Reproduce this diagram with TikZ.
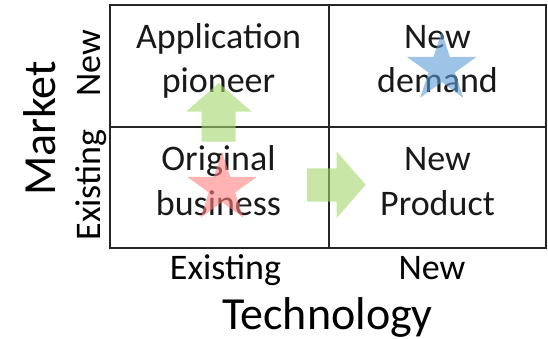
\documentclass[tikz,border=0pt]{standalone}
\usepackage{fontspec}
\setmainfont{Carlito}
\begin{document}
\begin{tikzpicture}[x=1pt,y=-1pt,
  celltext/.style={anchor=base,inner sep=0pt,font=\fontsize{36}{44}\selectfont,text=black!90},
  axistext/.style={anchor=base,inner sep=0pt,font=\fontsize{36}{44}\selectfont,text=black},
  axistitle/.style={anchor=base,inner sep=0pt,font=\fontsize{46}{55}\selectfont,text=black},
  gridline/.style={line width=2pt,draw=black!85},
  greenarrow/.style={fill={rgb,255:red,163;green,213;blue,105},fill opacity=0.6},
  redstar/.style={fill={rgb,255:red,255;green,128;blue,128},fill opacity=0.6},
  bluestar/.style={fill={rgb,255:red,92;green,155;blue,213},fill opacity=0.6}]
\useasboundingbox (0,0) rectangle (548,339);
% cell texts
\node[celltext] (app1) at (218.5,49) {Application};
\node[celltext] (app2) at (218.5,93) {pioneer};
\node[celltext] (dem1) at (437.5,49) {New};
\node[celltext] (dem2) at (437.5,93) {demand};
\node[celltext] (org1) at (218.5,171) {Original};
\node[celltext] (org2) at (218.5,215) {business};
\node[celltext] (prd1) at (437.5,171) {New};
\node[celltext] (prd2) at (437.5,215) {Product};
% grid
\coordinate (tl) at (109.5,5);
\coordinate (br) at (546,247.5);
\coordinate (mt) at (329,5);
\coordinate (mb) at (329,247.5);
\coordinate (ml) at (109.5,127.5);
\coordinate (mr) at (546,127.5);
\draw[gridline] (tl) rectangle (br);
\draw[gridline] (mt) -- (mb);
\draw[gridline] (ml) -- (mr);
% axis labels
\node[axistitle,rotate=90] (market) at (55,128.5) {Market};
\node[axistext,rotate=90] (mnew) at (100,63.5) {New};
\node[axistext,rotate=90] (mexist) at (100,185) {Existing};
\node[axistext] (texist) at (225.5,279) {Existing};
\node[axistext] (tnew) at (432,279) {New};
\node[axistitle] (tech) at (327.5,329.5) {Technology};
% arrows
\fill[greenarrow] (201.7,141.7) -- (201.7,111.7) -- (186,111.7) -- (218.8,83) -- (251.7,111.7) -- (235.5,111.7) -- (235.5,141.7) -- cycle;
\fill[greenarrow] (307,168.3) -- (336.7,168.3) -- (336.7,151.7) -- (365.7,184.8) -- (336.7,218) -- (336.7,201.7) -- (307,201.7) -- cycle;
% stars (y axis points down, so 270 degrees is up)
\fill[redstar,shift={(222,188.2)}] (270:36.5) -- (306:13.9) -- (342:36.5) -- (18:13.9) -- (54:36.5) -- (90:13.9) -- (126:36.5) -- (162:13.9) -- (198:36.5) -- (234:13.9) -- cycle;
\fill[bluestar,shift={(441.7,68.2)}] (270:36.5) -- (306:13.9) -- (342:36.5) -- (18:13.9) -- (54:36.5) -- (90:13.9) -- (126:36.5) -- (162:13.9) -- (198:36.5) -- (234:13.9) -- cycle;
\end{tikzpicture}
\end{document}
